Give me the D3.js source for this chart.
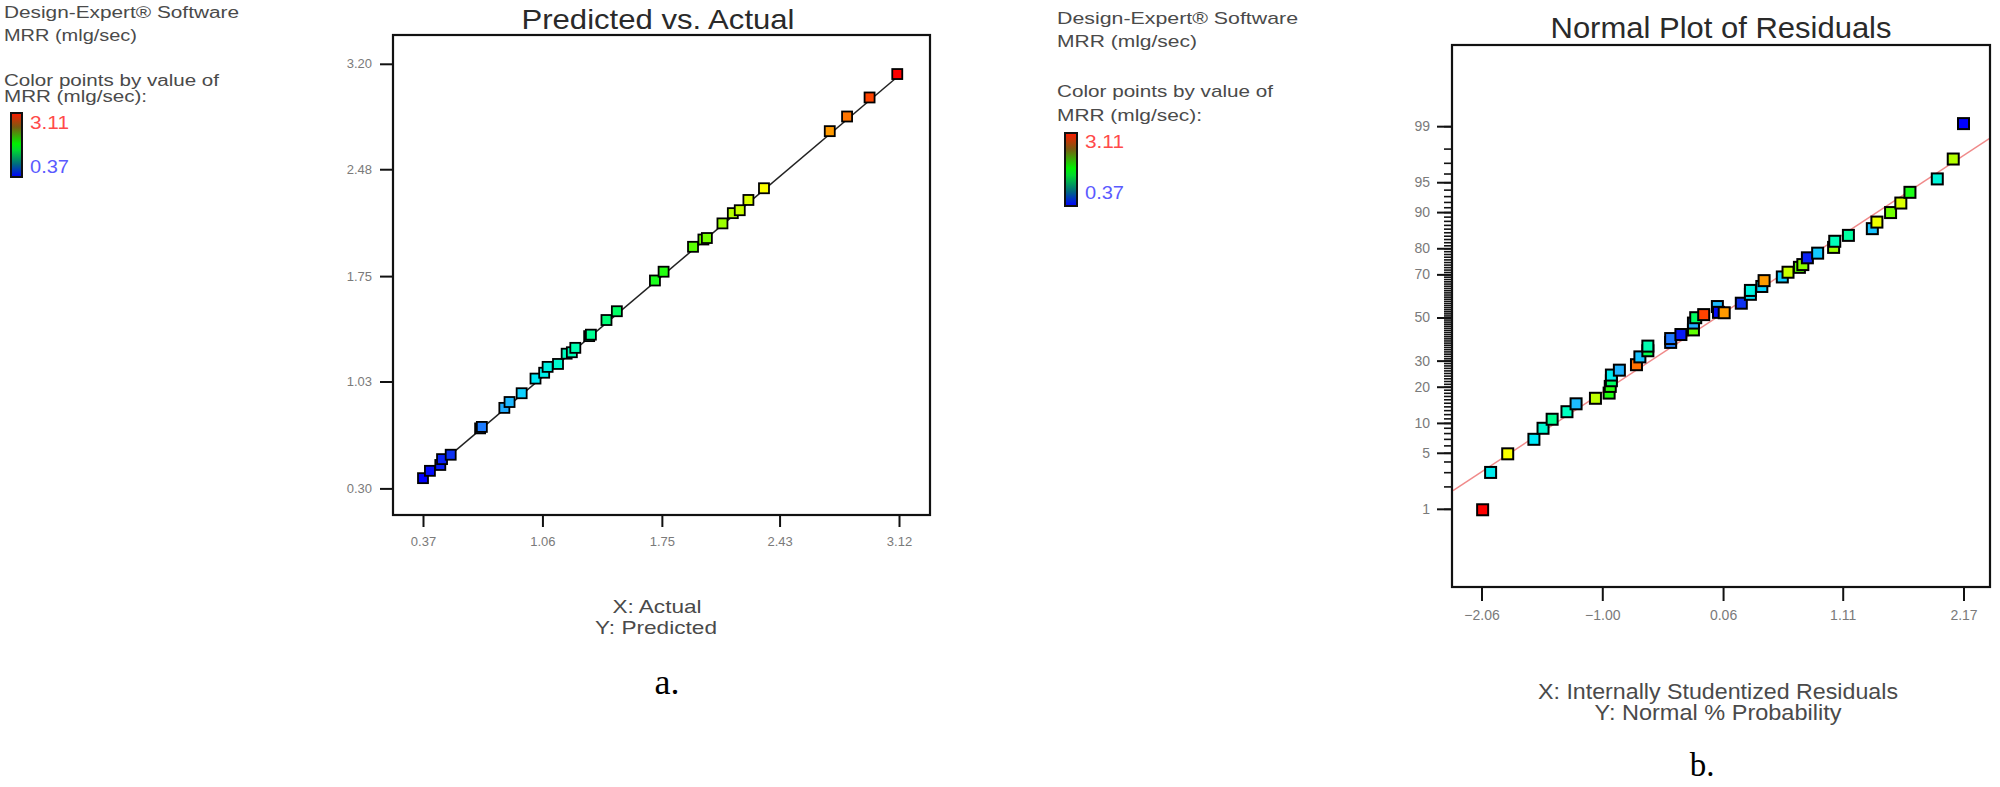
<!DOCTYPE html>
<html>
<head>
<meta charset="utf-8">
<script src="https://cdn.jsdelivr.net/npm/d3@7"></script>
<style>
body { margin: 0; background: #fff; }
svg { display: block; font-family: "Liberation Sans", Arial, sans-serif; }
</style>
</head>
<body>
<svg id="chart" width="2000" height="787"></svg>
<script>
// a. Predicted vs. Actual
const pvaActual = [0.37, 0.41, 0.47, 0.48, 0.53, 0.70, 0.71, 0.84, 0.87, 0.94, 1.02, 1.07, 1.09, 1.15, 1.20, 1.23, 1.25,
    1.33, 1.34, 1.43, 1.49, 1.71, 1.76, 1.93, 1.99, 2.01, 2.10, 2.16, 2.20, 2.25, 2.34, 2.72, 2.82, 2.95, 3.11];
const pvaPredicted = [0.37, 0.42, 0.46, 0.50, 0.53, 0.71, 0.72, 0.85, 0.89, 0.95, 1.05, 1.09, 1.13, 1.15, 1.22, 1.23, 1.26,
    1.34, 1.35, 1.45, 1.51, 1.72, 1.78, 1.95, 2.00, 2.01, 2.11, 2.18, 2.20, 2.27, 2.35, 2.74, 2.84, 2.97, 3.13];
const pvaXTicks = [0.37, 1.06, 1.75, 2.43, 3.12];
const pvaYTicks = [0.30, 1.03, 1.75, 2.48, 3.20];
const pvaFitLine = [0.37, 3.12];

// b. Normal plot of residuals
const residuals = [-2.05, -1.98, -1.83, -1.60, -1.52, -1.44, -1.31, -1.23, -1.06, -0.94, -0.93, -0.92, -0.92, -0.85,
    -0.70, -0.67, -0.60, -0.60, -0.40, -0.40, -0.31, -0.20, -0.20, -0.18, -0.11, 0.01, 0.02, 0.07, 0.22, 0.30, 0.30,
    0.40, 0.42, 0.58, 0.63, 0.73, 0.76, 0.80, 0.89, 1.03, 1.04, 1.16, 1.37, 1.41, 1.53, 1.62, 1.70, 1.94, 2.08, 2.17];
const normalProb = [0.97, 2.98, 4.87, 6.93, 8.9, 10.8, 12.6, 14.7, 16.3, 17.9, 20.1, 22.1, 24.2, 26.1,
    28.3, 31.6, 34.3, 36.4, 38.1, 39.9, 41.8, 44.0, 47.3, 49.9, 51.4, 55.3, 52.5, 52.3, 56.9, 61.1, 62.9,
    64.7, 67.3, 68.9, 70.9, 72.9, 74.0, 76.6, 78.3, 80.3, 82.3, 84.1, 86.0, 87.7, 89.9, 91.8, 93.6, 95.4, 97.3, 99.08];
const residMRR = [3.11, 1.05, 2.33, 1.02, 1.15, 1.35, 1.20, 0.88, 2.18, 1.75, 1.78, 1.50, 1.05, 0.86,
    2.83, 0.90, 1.55, 1.25, 0.72, 0.70, 0.45, 1.95, 0.85, 1.50, 2.95, 0.88, 0.41, 2.72, 0.53, 1.00, 1.10,
    0.95, 2.72, 0.93, 2.20, 1.93, 2.05, 0.48, 0.92, 2.10, 1.22, 1.30, 0.90, 2.30, 2.00, 2.25, 1.72, 1.12, 2.15, 0.37];
const normXTicks = [-2.06, -1.00, 0.06, 1.11, 2.17];
const normYTicks = [1, 5, 10, 20, 30, 50, 70, 80, 90, 95, 99];
const normMinorTicks = d3.range(1, 100);
const refLineRes = [-2.31, 2.44];
const refLineProb = [1.77, 98.66];

// legend
const mrrRange = [0.37, 3.11];
const legendLines = ["Design-Expert\u00AE Software", "MRR (mlg/sec)", "Color points by value of", "MRR (mlg/sec):"];

const colorScale = d3.scaleLinear()
    .domain([0.37, 0.55, 0.70, 0.86, 1.00, 1.20, 1.50, 1.75, 2.00, 2.20, 2.35, 2.72, 2.85, 3.00, 3.11])
    .range(["#0000ff", "#1038f0", "#1e78ff", "#22b4ff", "#00e6ff", "#00ffc0", "#00ff60", "#20ff10",
        "#70ff00", "#c8ff00", "#ffff00", "#ff9a00", "#ff6a00", "#ff3000", "#ff0000"])
    .clamp(true);

const svg = d3.select("#chart");

// inverse normal CDF (Acklam)
function probit(p) {
    const a = [-3.969683028665376e+01, 2.209460984245205e+02, -2.759285104469687e+02, 1.383577518672690e+02, -3.066479806614716e+01, 2.506628277459239e+00];
    const b = [-5.447609879822406e+01, 1.615858368580409e+02, -1.556989798598866e+02, 6.680131188771972e+01, -1.328068155288572e+01];
    const c = [-7.784894002430293e-03, -3.223964580411365e-01, -2.400758277161838e+00, -2.549732539343734e+00, 4.374664141464968e+00, 2.938163982698783e+00];
    const d = [7.784695709041462e-03, 3.224671290700398e-01, 2.445134137142996e+00, 3.754408661907416e+00];
    const plow = 0.02425;
    let q, r;
    if (p < plow) {
        q = Math.sqrt(-2 * Math.log(p));
        return (((((c[0] * q + c[1]) * q + c[2]) * q + c[3]) * q + c[4]) * q + c[5]) / ((((d[0] * q + d[1]) * q + d[2]) * q + d[3]) * q + 1);
    }
    if (p <= 1 - plow) {
        q = p - 0.5; r = q * q;
        return (((((a[0] * r + a[1]) * r + a[2]) * r + a[3]) * r + a[4]) * r + a[5]) * q / (((((b[0] * r + b[1]) * r + b[2]) * r + b[3]) * r + b[4]) * r + 1);
    }
    q = Math.sqrt(-2 * Math.log(1 - p));
    return -(((((c[0] * q + c[1]) * q + c[2]) * q + c[3]) * q + c[4]) * q + c[5]) / ((((d[0] * q + d[1]) * q + d[2]) * q + d[3]) * q + 1);
}

// gradient for the colour bars
const grad = svg.append("defs").append("linearGradient")
    .attr("id", "mrrGrad").attr("x1", 0).attr("y1", 0).attr("x2", 0).attr("y2", 1);
[[0, "#ff1a00"], [0.22, "#7a5a10"], [0.48, "#00f000"], [0.58, "#00d830"], [0.8, "#006a80"], [1, "#0000ff"]]
    .forEach(s => grad.append("stop").attr("offset", s[0]).attr("stop-color", s[1]));

function drawLegend(o) {
    const g = svg.append("g");
    legendLines.forEach((t, i) => {
        g.append("text")
            .attr("x", o.x).attr("y", o.lines[i][0])
            .attr("font-size", o.fs).attr("fill", "#4a4a4a")
            .attr("textLength", o.lines[i][1]).attr("lengthAdjust", "spacingAndGlyphs")
            .text(t);
    });
    g.append("rect")
        .attr("x", o.bar[0]).attr("y", o.bar[1]).attr("width", o.bar[2]).attr("height", o.bar[3])
        .attr("fill", "url(#mrrGrad)").attr("stroke", "#111").attr("stroke-width", 2);
    g.append("text").attr("x", o.numX).attr("y", o.hiY).attr("font-size", o.numFs)
        .attr("fill", "#ff4a4a").attr("textLength", o.numW).attr("lengthAdjust", "spacingAndGlyphs")
        .text(mrrRange[1].toFixed(2));
    g.append("text").attr("x", o.numX).attr("y", o.loY).attr("font-size", o.numFs)
        .attr("fill", "#5a5aff").attr("textLength", o.numW).attr("lengthAdjust", "spacingAndGlyphs")
        .text(mrrRange[0].toFixed(2));
}

function styleAxis(sel, fs) {
    sel.select(".domain").remove();
    sel.selectAll(".tick line").attr("stroke", "#111").attr("stroke-width", 2);
    sel.selectAll(".tick text").attr("fill", "#7a7a7a").attr("font-size", fs)
        .attr("font-family", "'Liberation Sans', Arial, sans-serif");
}

function label(x, y, fs, len, txt, fill, family) {
    const t = svg.append("text").attr("x", x).attr("y", y).attr("font-size", fs)
        .attr("text-anchor", "middle").attr("fill", fill).text(txt);
    if (len) t.attr("textLength", len).attr("lengthAdjust", "spacingAndGlyphs");
    if (family) t.attr("font-family", family);
    return t;
}

drawLegend({x: 4, fs: 16, lines: [[18, 235], [41, 133], [86, 215], [102, 143]],
    bar: [11, 113, 11, 64], numX: 30, numW: 39, numFs: 19, hiY: 129, loY: 173});
drawLegend({x: 1057, fs: 17, lines: [[24, 241], [47, 140], [97, 216], [121, 145]],
    bar: [1065, 133, 12, 73], numX: 1085, numW: 39, numFs: 19, hiY: 148, loY: 199});

// ---- panel a ----
const pL = {x: 393, y: 35, w: 537, h: 480};
const gL = svg.append("g").attr("transform", `translate(${pL.x},${pL.y})`);
const xL = d3.scaleLinear().domain([0.37, 3.12]).range([30, 506]);
const yL = d3.scaleLinear().domain([0.30, 3.20]).range([453.4, 28.8]);

gL.append("g").attr("transform", `translate(0,${pL.h})`)
    .call(d3.axisBottom(xL).tickValues(pvaXTicks).tickSize(12).tickPadding(10).tickFormat(d3.format(".2f")))
    .call(s => styleAxis(s, 13));
gL.append("g")
    .call(d3.axisLeft(yL).tickValues(pvaYTicks).tickSize(13).tickPadding(8).tickFormat(d3.format(".2f")))
    .call(s => styleAxis(s, 13));

gL.append("path")
    .datum(pvaFitLine)
    .attr("d", d3.line().x(d => xL(d)).y(d => yL(d)))
    .attr("fill", "none").attr("stroke", "#222").attr("stroke-width", 1.5);

const sqL = 10;
gL.selectAll("rect.pt")
    .data(pvaActual.map((a, i) => ({a: a, p: pvaPredicted[i]})))
    .join("rect").attr("class", "pt")
    .attr("x", d => xL(d.a) - sqL / 2).attr("y", d => yL(d.p) - sqL / 2)
    .attr("width", sqL).attr("height", sqL)
    .attr("fill", d => colorScale(d.a)).attr("stroke", "#000").attr("stroke-width", 1.8);

gL.append("rect").attr("width", pL.w).attr("height", pL.h)
    .attr("fill", "none").attr("stroke", "#111").attr("stroke-width", 2.2);

label(658, 29, 28, 273, "Predicted vs. Actual", "#2a2a2a");
label(657, 613, 19, 89, "X: Actual", "#4a4a4a");
label(656, 634, 19, 122, "Y: Predicted", "#4a4a4a");
label(667, 694, 36, null, "a.", "#000", "'Liberation Serif', 'Times New Roman', serif");

// ---- panel b ----
const pR = {x: 1452, y: 45, w: 538, h: 542};
const gR = svg.append("g").attr("transform", `translate(${pR.x},${pR.y})`);
const xR = d3.scaleLinear().domain([-2.06, 2.17]).range([29.5, 511.5]);
const zR = d3.scaleLinear().domain([-2.326, 2.326]).range([463.8, 81.2]);
const yR = p => zR(probit(p / 100));

gR.append("clipPath").attr("id", "clipR")
    .append("rect").attr("width", pR.w).attr("height", pR.h);

gR.append("g").attr("transform", `translate(0,${pR.h})`)
    .call(d3.axisBottom(xR).tickValues(normXTicks).tickSize(14).tickPadding(9).tickFormat(d3.format(".2f")))
    .call(s => styleAxis(s, 14));
gR.append("g")
    .call(d3.axisLeft(zR).tickValues(normMinorTicks.map(p => probit(p / 100))).tickSize(8).tickFormat(""))
    .call(s => styleAxis(s, 14))
    .call(s => s.selectAll(".tick line").attr("stroke-width", 1.6));
gR.append("g")
    .call(d3.axisLeft(zR).tickValues(normYTicks.map(p => probit(p / 100))).tickSize(15).tickPadding(7)
        .tickFormat((d, i) => normYTicks[i]))
    .call(s => styleAxis(s, 14));

gR.append("path")
    .datum(refLineRes.map((r, i) => [r, refLineProb[i]]))
    .attr("clip-path", "url(#clipR)")
    .attr("d", d3.line().x(d => xR(d[0])).y(d => yR(d[1])))
    .attr("fill", "none").attr("stroke", "#f08a8a").attr("stroke-width", 1.5);

const sqR = 11;
gR.selectAll("rect.pt")
    .data(residuals.map((r, i) => ({r: r, p: normalProb[i], m: residMRR[i]})))
    .join("rect").attr("class", "pt")
    .attr("x", d => xR(d.r) - sqR / 2).attr("y", d => yR(d.p) - sqR / 2)
    .attr("width", sqR).attr("height", sqR)
    .attr("fill", d => colorScale(d.m)).attr("stroke", "#000").attr("stroke-width", 2);

gR.append("rect").attr("width", pR.w).attr("height", pR.h)
    .attr("fill", "none").attr("stroke", "#111").attr("stroke-width", 2.2);

label(1721, 38, 29, 341, "Normal Plot of Residuals", "#2a2a2a");
label(1718, 699, 22, 360, "X: Internally Studentized Residuals", "#4a4a4a");
label(1718, 720, 22, 247, "Y: Normal % Probability", "#4a4a4a");
label(1702, 776, 33, null, "b.", "#000", "'Liberation Serif', 'Times New Roman', serif");
</script>
</body>
</html>
